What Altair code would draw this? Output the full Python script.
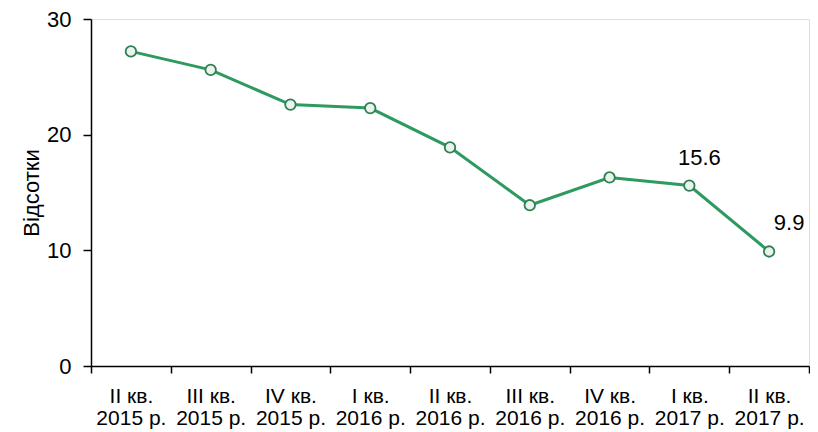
import altair as alt
import pandas as pd

quarters = ["II кв.", "III кв.", "IV кв.", "I кв.", "II кв.", "III кв.", "IV кв.", "I кв.", "II кв."]
years = ["2015 р.", "2015 р.", "2015 р.", "2016 р.", "2016 р.", "2016 р.", "2016 р.", "2017 р.", "2017 р."]
values = [27.2, 25.6, 22.6, 22.3, 18.9, 13.9, 16.3, 15.6, 9.9]
labels = ["", "", "", "", "", "", "", "15.6", "9.9"]

cats = [q + "\n" + y for q, y in zip(quarters, years)]
df = pd.DataFrame({"cat": cats, "value": values, "label": labels})

FONT = "Liberation Sans"
GREEN = "#2E9A60"

x = alt.X(
    "cat:N",
    sort=cats,
    bandPosition=0.5,
    scale=alt.Scale(type="band", paddingInner=0, paddingOuter=0),
    axis=alt.Axis(
        title=None,
        labelAngle=0,
        tickBand="extent",
        labelExpr="split(datum.label, '\\n')",
        labelFont=FONT,
        labelFontSize=21,
        labelColor="#000000",
        labelLineHeight=22,
        labelPadding=12,
        tickSize=7,
        tickColor="#000000",
        domainColor="#000000",
        domainWidth=1.5,
        tickWidth=1.5,
        grid=False,
    ),
)
y = alt.Y(
    "value:Q",
    scale=alt.Scale(domain=[0, 30], nice=False),
    axis=alt.Axis(
        title="Відсотки",
        values=[0, 10, 20, 30],
        titleFont=FONT,
        titleFontSize=22,
        titleFontWeight="normal",
        titleColor="#000000",
        titlePadding=3,
        labelFont=FONT,
        labelFontSize=22,
        labelColor="#000000",
        labelPadding=12,
        tickSize=8,
        tickColor="#000000",
        domainColor="#000000",
        domainWidth=1.5,
        tickWidth=1.5,
        grid=False,
    ),
)

base = alt.Chart(df).encode(x=x, y=y)
line = base.mark_line(color=GREEN, strokeWidth=3)
pts = base.mark_point(filled=True, fill="#EAF3EC", stroke="#2F7F52", strokeWidth=1.8, size=110, opacity=1)
txt1 = base.transform_filter("datum.label == '15.6'").mark_text(
    font=FONT, fontSize=22, dx=10, dy=-28, color="#000000"
).encode(text="label:N")
txt2 = base.transform_filter("datum.label == '9.9'").mark_text(
    font=FONT, fontSize=22, dx=20, dy=-28, color="#000000"
).encode(text="label:N")

chart = (
    alt.layer(line, pts, txt1, txt2)
    .properties(
        width=718,
        height=347,
        autosize=alt.AutoSizeParams(type="none"),
        padding={"left": 83, "top": 11, "right": 1, "bottom": 66},
    )
    .configure_view(stroke=None)
    .configure(background="white")
)

chart.save("out.html", embed_options={"renderer": "svg", "actions": False})
